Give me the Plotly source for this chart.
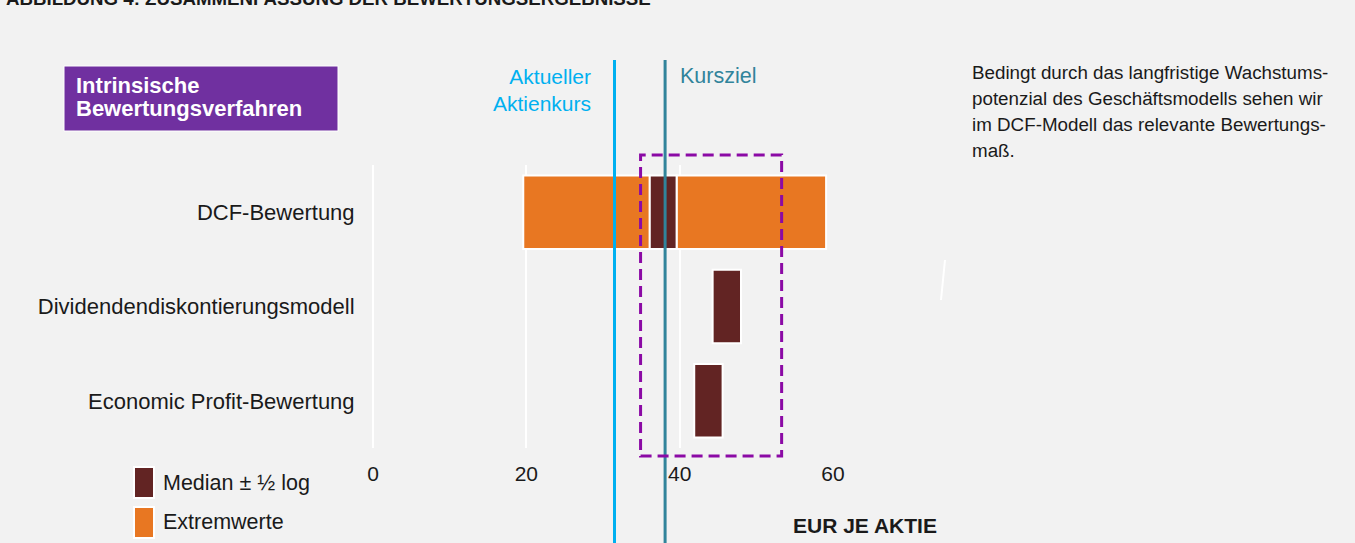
import plotly.graph_objects as go

# ---------------- data ----------------
methods = ["DCF-Bewertung", "Dividendendiskontierungsmodell", "Economic Profit-Bewertung"]
extreme_low = [19.6, None, None]
median_low = [36.1, 44.3, 41.9]
median_high = [39.6, 48.0, 45.6]
extreme_high = [59.1, None, None]
current_price = 31.5
target_price = 38.1
focus_range = [34.9, 53.3]
x_ticks = [0, 20, 40, 60]
header_lines = ["Intrinsische", "Bewertungsverfahren"]
note_lines = [
    "Bedingt durch das langfristige Wachstums-",
    "potenzial des Geschäftsmodells sehen wir",
    "im DCF-Modell das relevante Bewertungs-",
    "maß.",
]

# ---------------- layout helpers ----------------
W, H = 1355, 543
L, R, T, B = 373, 1355 - 833, 165, 543 - 448
PW, PH = W - L - R, H - T - B


def px(xp):
    return (xp - L) / PW


def py(yp):
    return (H - B - yp) / PH


ORANGE = "#E87722"
DARK = "#622423"
PURPLE = "#7030A0"
DASH_PURPLE = "#8B0AA5"
LIGHTBLUE = "#00B0F0"
TEAL = "#31849B"
BG = "#F2F2F2"
FONT = "Liberation Sans, Arial, sans-serif"

fig = go.Figure()

# orange extremes: left piece and right piece
lo_base, lo_len, hi_base, hi_len = [], [], [], []
for el, ml, mh, eh in zip(extreme_low, median_low, median_high, extreme_high):
    if el is None:
        lo_base.append(None); lo_len.append(None)
        hi_base.append(None); hi_len.append(None)
    else:
        lo_base.append(el); lo_len.append(ml - el)
        hi_base.append(mh); hi_len.append(eh - mh)

fig.add_trace(go.Bar(y=methods, x=lo_len, base=lo_base, orientation="h",
                     marker=dict(color=ORANGE, line=dict(color="white", width=2)),
                     width=0.78, name="Extremwerte", showlegend=False))
fig.add_trace(go.Bar(y=methods, x=hi_len, base=hi_base, orientation="h",
                     marker=dict(color=ORANGE, line=dict(color="white", width=2)),
                     width=0.78, name="Extremwerte", showlegend=False))
fig.add_trace(go.Bar(y=methods, x=[h - l for l, h in zip(median_low, median_high)],
                     base=median_low, orientation="h",
                     marker=dict(color=DARK, line=dict(color="white", width=2)),
                     width=0.78, name="Median ± ½ log", showlegend=False))

shapes = []
# price lines
for val, col in [(current_price, LIGHTBLUE), (target_price, TEAL)]:
    shapes.append(dict(type="line", xref="x", yref="paper", x0=val, x1=val,
                       y0=py(60), y1=py(560), line=dict(color=col, width=3), layer="above"))
# dashed focus box
shapes.append(dict(type="rect", xref="x", yref="paper", x0=focus_range[0], x1=focus_range[1],
                   y0=py(456), y1=py(155), line=dict(color=DASH_PURPLE, width=3, dash="11px,6px"),
                   fillcolor="rgba(0,0,0,0)", layer="above"))
# purple header box
shapes.append(dict(type="rect", xref="paper", yref="paper", x0=px(64), x1=px(338),
                   y0=py(131), y1=py(66), fillcolor=PURPLE, line=dict(color="white", width=1)))
# legend swatches
shapes.append(dict(type="rect", xref="paper", yref="paper", x0=px(134), x1=px(154),
                   y0=py(498), y1=py(467), fillcolor=DARK, line=dict(color="white", width=2)))
shapes.append(dict(type="rect", xref="paper", yref="paper", x0=px(134), x1=px(154),
                   y0=py(538), y1=py(507), fillcolor=ORANGE, line=dict(color="white", width=2)))
# small white stroke
shapes.append(dict(type="line", xref="paper", yref="paper", x0=px(945), x1=px(941),
                   y0=py(260), y1=py(300), line=dict(color="white", width=2)))

annotations = [
    dict(text="<b>ABBILDUNG 4: ZUSAMMENFASSUNG DER BEWERTUNGSERGEBNISSE</b>",
         xref="paper", yref="paper", x=px(4), y=py(-2), xanchor="left", yanchor="middle",
         showarrow=False, font=dict(family=FONT, size=18.7, color="#1a1a1a")),
    dict(text="Aktueller<br>Aktienkurs", xref="x", yref="paper", x=current_price, xshift=-22,
         y=py(90), xanchor="right", yanchor="middle", align="right", showarrow=False,
         font=dict(family=FONT, size=21, color=LIGHTBLUE)),
    dict(text="Kursziel", xref="x", yref="paper", x=target_price, xshift=13,
         y=py(76), xanchor="left", yanchor="middle", align="left", showarrow=False,
         font=dict(family=FONT, size=21.5, color=TEAL)),
    dict(text="Median ± ½ log", xref="paper", yref="paper", x=px(161), y=py(483),
         xanchor="left", yanchor="middle", showarrow=False,
         font=dict(family=FONT, size=21.5, color="#1a1a1a")),
    dict(text="Extremwerte", xref="paper", yref="paper", x=px(161), y=py(522),
         xanchor="left", yanchor="middle", showarrow=False,
         font=dict(family=FONT, size=21.5, color="#1a1a1a")),
    dict(text="<b>EUR JE AKTIE</b>", xref="paper", yref="paper", x=px(939), y=py(525),
         xanchor="right", yanchor="middle", showarrow=False,
         font=dict(family=FONT, size=21, color="#1a1a1a")),
]
for i, line in enumerate(header_lines):
    annotations.append(dict(text="<b>" + line + "</b>", xref="paper", yref="paper", x=px(74),
                            y=py(85 + 24 * i), xanchor="left", yanchor="middle", align="left",
                            showarrow=False, font=dict(family=FONT, size=22, color="white")))
for i, line in enumerate(note_lines):
    annotations.append(dict(text=line, xref="paper", yref="paper", x=px(970), y=py(72 + 26 * i),
                            xanchor="left", yanchor="middle", align="left", showarrow=False,
                            font=dict(family=FONT, size=18.8, color="#1a1a1a")))

fig.update_layout(
    width=W, height=H,
    margin=dict(l=L, r=R, t=T, b=B, pad=0),
    paper_bgcolor=BG, plot_bgcolor=BG,
    barmode="overlay", showlegend=False,
    shapes=shapes, annotations=annotations,
    font=dict(family=FONT, color="#1a1a1a"),
    xaxis=dict(range=[0, 60], tickvals=x_ticks, ticktext=[str(v) for v in x_ticks],
               showgrid=True, gridcolor="white", gridwidth=2, zeroline=True,
               zerolinecolor="white", zerolinewidth=2, showline=False,
               ticks="outside", ticklen=7, tickcolor="rgba(0,0,0,0)",
               tickfont=dict(size=21, family=FONT, color="#1a1a1a"), fixedrange=True),
    yaxis=dict(categoryorder="array", categoryarray=methods, autorange="reversed",
               showgrid=False, zeroline=False, showline=False,
               ticks="outside", ticklen=13, tickcolor="rgba(0,0,0,0)",
               tickfont=dict(size=22, family=FONT, color="#1a1a1a"), fixedrange=True),
)

fig.write_html(
    "out.html",
    config={"displayModeBar": False},
    post_script="document.body.style.margin='0';document.body.style.padding='0';"
                "document.body.style.overflow='hidden';",
)
